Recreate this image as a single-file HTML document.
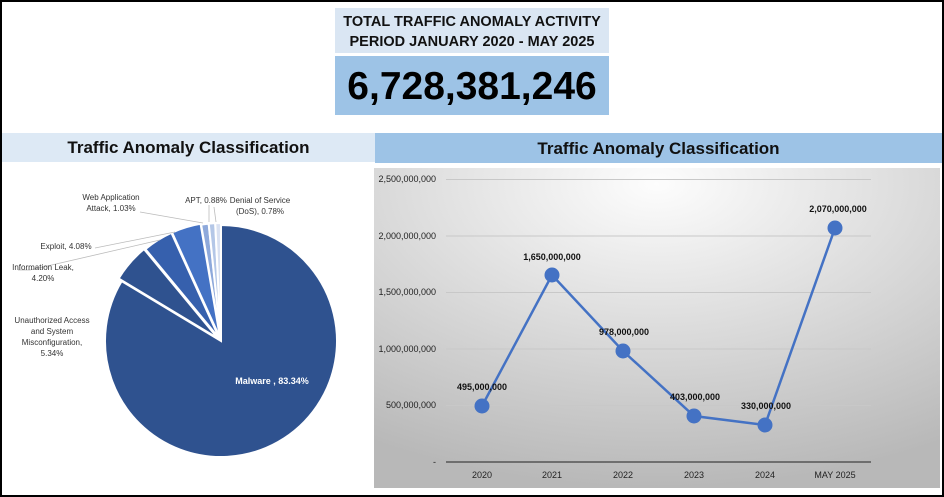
<!DOCTYPE html>
<html><head><meta charset="utf-8"><style>
body{margin:0;width:944px;height:497px;background:#fff;overflow:hidden;font-family:"Liberation Sans",sans-serif;}
#frame{position:absolute;left:0;top:0;width:940px;height:493px;border:2px solid #000;}
.abs{position:absolute;}
.t{position:absolute;white-space:nowrap;}
</style></head><body>
<div id="frame"></div>
<div class="abs" style="left:335px;top:8px;width:274px;height:45px;background:#dae6f3;"></div>
<div class="abs" style="left:335px;top:56px;width:274px;height:59px;background:#9dc3e6;"></div>
<div class="t" style="left:335px;width:274px;top:12px;text-align:center;font-weight:bold;font-size:14.5px;line-height:20px;color:#111;">TOTAL TRAFFIC ANOMALY ACTIVITY<br>PERIOD JANUARY 2020 - MAY 2025</div>
<div class="t" style="left:335px;width:274px;top:63px;text-align:center;font-weight:bold;font-size:39px;line-height:48px;color:#000;">6,728,381,246</div>

<div class="abs" style="left:2px;top:133px;width:373px;height:29px;background:#dde9f5;"></div>
<div class="t" style="left:2px;width:373px;top:138px;text-align:center;font-weight:bold;font-size:17px;color:#111;">Traffic Anomaly Classification</div>
<div class="abs" style="left:375px;top:133px;width:567px;height:30px;background:#9dc3e6;"></div>
<div class="t" style="left:375px;width:567px;top:139px;text-align:center;font-weight:bold;font-size:17px;color:#111;">Traffic Anomaly Classification</div>

<svg class="abs" style="left:0;top:0" width="944" height="497" id="svg">
<defs><radialGradient id="g" cx="0.5" cy="0.05" r="0.95"><stop offset="0" stop-color="#fdfdfd"/><stop offset="1" stop-color="#b8b8b8"/></radialGradient></defs>
<rect x="374" y="168" width="566" height="320" fill="url(#g)"/>
<g stroke="#c8c8c8" stroke-width="1">
<line x1="446" x2="871" y1="179.5" y2="179.5"/><line x1="446" x2="871" y1="236" y2="236"/>
<line x1="446" x2="871" y1="292.5" y2="292.5"/><line x1="446" x2="871" y1="349" y2="349"/>
<line x1="446" x2="871" y1="405.5" y2="405.5"/></g>
<line x1="446" x2="871" y1="462" y2="462" stroke="#555" stroke-width="1.5"/>
<g font-size="9" fill="#222" text-anchor="end" font-family="Liberation Sans,sans-serif">
<text x="436" y="182">2,500,000,000</text><text x="436" y="239">2,000,000,000</text>
<text x="436" y="295">1,500,000,000</text><text x="436" y="352">1,000,000,000</text>
<text x="436" y="408">500,000,000</text><text x="436" y="465">-</text></g>
<g font-size="9" fill="#222" text-anchor="middle">
<text x="482" y="478">2020</text><text x="552" y="478">2021</text><text x="623" y="478">2022</text>
<text x="694" y="478">2023</text><text x="765" y="478">2024</text><text x="835" y="478">MAY 2025</text></g>
<polyline fill="none" stroke="#4472c4" stroke-width="2.5" points="482,406 552,275 623,351 694,416 765,425 835,228"/>
<g fill="#4472c4"><circle cx="482" cy="406" r="7.5"/><circle cx="552" cy="275" r="7.5"/><circle cx="623" cy="351" r="7.5"/><circle cx="694" cy="416" r="7.5"/><circle cx="765" cy="425" r="7.5"/><circle cx="835" cy="228" r="7.5"/></g>
<g font-size="9" font-weight="bold" fill="#111" text-anchor="middle">
<text x="482" y="390">495,000,000</text><text x="552" y="260">1,650,000,000</text><text x="624" y="335">978,000,000</text>
<text x="695" y="400">403,000,000</text><text x="766" y="409">330,000,000</text><text x="838" y="212">2,070,000,000</text></g>
<g id="pie"></g>
<g stroke="#bbb" stroke-width="0.8" fill="none">
<polyline points="18,270 30,270 160,240"/>
<polyline points="95,248 175,232"/>
<polyline points="140,212 203,223"/>
<polyline points="209,205 209,222"/>
<polyline points="214,207 216,222"/>
</g>
<g font-size="8" fill="#333" text-anchor="middle">
<text x="111" y="200">Web Application</text><text x="111" y="211">Attack, 1.03%</text>
<text x="206" y="203">APT, 0.88%</text>
<text x="260" y="203">Denial of Service</text><text x="260" y="214">(DoS), 0.78%</text>
<text x="66" y="249">Exploit, 4.08%</text>
<text x="43" y="270">Information Leak,</text><text x="43" y="281">4.20%</text>
<text x="52" y="323">Unauthorized Access</text><text x="52" y="334">and System</text><text x="52" y="345">Misconfiguration,</text><text x="52" y="356">5.34%</text>
</g>
<text x="272" y="384" font-size="9" font-weight="bold" fill="#fff" text-anchor="middle">Malware , 83.34%</text>
</svg>
<script>
var cx=221,cy=341,r=116;
var d=[[83.34,"#2f528f",0],[5.34,"#2f528f",4],[4.20,"#3660ad",3],[4.08,"#4472c4",3],[1.03,"#8ea9db",2],[0.88,"#b4c7e7",2],[0.78,"#d9e1f2",2]];
var tot=0;d.forEach(function(x){tot+=x[0]});
var a=0,h="";
d.forEach(function(x){var s=a,e=a+x[0]/tot*2*Math.PI;a=e;var m=(s+e)/2;
var ox=cx+x[2]*Math.sin(m),oy=cy-x[2]*Math.cos(m);
var x1=ox+r*Math.sin(s),y1=oy-r*Math.cos(s),x2=ox+r*Math.sin(e),y2=oy-r*Math.cos(e);
h+='<path d="M'+ox+','+oy+' L'+x1+','+y1+' A'+r+','+r+' 0 '+((e-s)>Math.PI?1:0)+' 1 '+x2+','+y2+' Z" fill="'+x[1]+'" stroke="#fff" stroke-width="2"/>';});
document.getElementById("pie").innerHTML=h;
</script>
</body></html>
